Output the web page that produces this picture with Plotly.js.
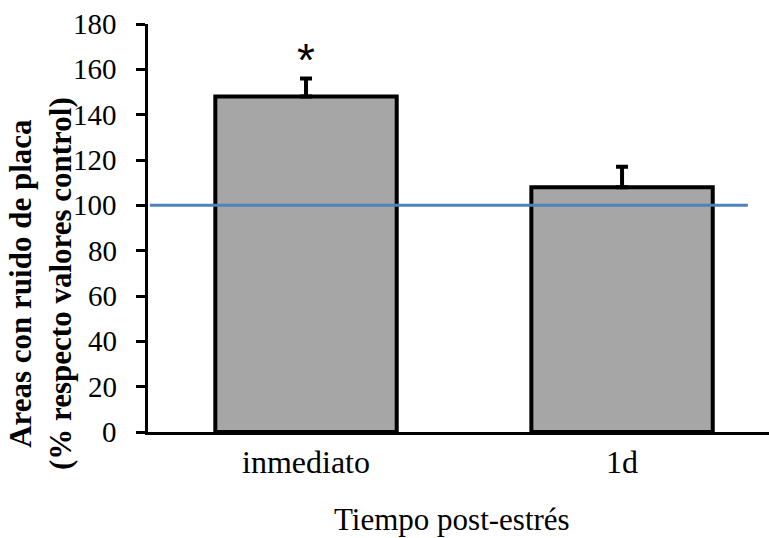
<!DOCTYPE html>
<html>
<head>
<meta charset="utf-8">
<script src="https://cdn.plot.ly/plotly-3.0.1.min.js"></script>
<style>html,body{margin:0;padding:0;background:#fff;}#chart{width:769px;height:538px;}</style>
</head>
<body>
<div id="chart"></div>
<script>
const categories = ["inmediato", "1d"];
const values = [148, 108];
const errors = [8, 9];
const significance = ["*", ""];
const significanceY = [164, null];
const referenceLevel = 100;
const yTicks = [0, 20, 40, 60, 80, 100, 120, 140, 160, 180];
const xTitle = "Tiempo post-estrés";
const yTitle = "<b>Areas con ruido de placa<br>(% respecto valores control)</b>";

const font = "Liberation Serif";

const traces = [{
  type: "bar",
  x: categories,
  y: values,
  marker: {color: "#a6a6a6", line: {color: "#000", width: 4}},
  error_y: {type: "data", symmetric: false, array: errors, arrayminus: errors.map(() => 0),
            color: "#000", thickness: 4, width: 6},
  hoverinfo: "skip"
}];

const annotations = categories.map((c, i) => ({
  x: c, y: significanceY[i], text: significance[i], showarrow: false,
  yanchor: "middle",
  font: {family: "Liberation Sans", size: 46, color: "#000"}
})).filter(a => a.text);

// y tick labels placed with a wider gap from the axis, as in the reference
yTicks.forEach(v => annotations.push({
  xref: "paper", yref: "y", x: -0.047, y: v,
  xanchor: "right", yanchor: "middle", showarrow: false,
  text: String(v), font: {family: font, size: 29, color: "#000"}
}));

annotations.push({
  xref: "paper", yref: "paper", x: 0.4895, y: -0.215,
  xanchor: "center", yanchor: "middle", showarrow: false,
  text: xTitle, font: {family: font, size: 31, color: "#000"}
});
annotations.push({
  xref: "paper", yref: "paper", x: -0.174, y: 0.365,
  xanchor: "center", yanchor: "middle", showarrow: false, textangle: -90,
  text: yTitle, font: {family: font, size: 31, color: "#000"}
});

const layout = {
  width: 769, height: 538,
  margin: {l: 148, r: 0, t: 24, b: 106},
  paper_bgcolor: "#fff", plot_bgcolor: "#fff",
  showlegend: false,
  bargap: 0.426,
  font: {family: font, size: 29, color: "#000"},
  xaxis: {
    type: "category",
    range: [-0.5, 1.465],
    showline: true, linecolor: "#000", linewidth: 3,
    ticks: "", showgrid: false, zeroline: false,
    tickfont: {family: font, size: 32, color: "#000"}
  },
  yaxis: {
    range: [0, 180],
    tickvals: yTicks,
    showticklabels: false,
    showline: true, linecolor: "#000", linewidth: 3,
    ticks: "outside", ticklen: 9, tickwidth: 3, tickcolor: "#000",
    showgrid: false, zeroline: false
  },
  shapes: [{
    type: "line", xref: "paper", yref: "y",
    x0: 0.003, x1: 0.966, y0: referenceLevel, y1: referenceLevel,
    line: {color: "#4f81bd", width: 3}
  }],
  annotations: annotations
};

Plotly.newPlot("chart", traces, layout, {displayModeBar: false, staticPlot: true});
</script>
</body>
</html>
